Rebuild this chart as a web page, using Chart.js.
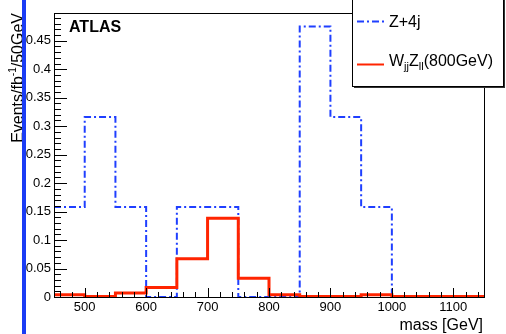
<!DOCTYPE html>
<html>
<head>
<meta charset="utf-8">
<script src="https://cdn.jsdelivr.net/npm/chart.js@4/dist/chart.umd.min.js"></script>
<style>
  html, body { margin: 0; padding: 0; background: #fff; }
</style>
</head>
<body>
<canvas id="massChart" width="506" height="334"></canvas>
<script>
// 50 GeV bins, lower edges 450 .. 1100, last edge 1150
const binEdges = [450, 500, 550, 600, 650, 700, 750, 800, 850, 900, 950, 1000, 1050, 1100, 1150];
const zJets = [0.158, 0.316, 0.158, 0, 0.158, 0.158, 0, 0, 0.475, 0.316, 0.158, 0, 0, 0];
const wzSignal = [0.004, 0.001, 0.007, 0.0165, 0.067, 0.1385, 0.033, 0.004, 0.001, 0.001, 0.004, 0.001, 0.001, 0.001];
const xTicks = [500, 600, 700, 800, 900, 1000, 1100];
const yTicks = [0, 0.05, 0.1, 0.15, 0.2, 0.25, 0.3, 0.35, 0.4, 0.45];
const yTickLabels = ['0', '0.05', '0.1', '0.15', '0.2', '0.25', '0.3', '0.35', '0.4', '0.45'];

const BLUE = '#1f3fff';
const RED = '#ff2400';
const FONT = '"Liberation Sans", Arial, Helvetica, sans-serif';

function histPoints(vals) {
    return binEdges.map((x, i) => ({ x: x, y: vals[Math.min(i, vals.length - 1)] }));
}

const rootStyle = {
    id: 'rootStyle',
    afterDatasetsDraw(chart) {
        const ctx = chart.ctx;
        const a = chart.chartArea;
        const xs = chart.scales.x, ys = chart.scales.y;
        ctx.save();

        // frame
        ctx.strokeStyle = '#000';
        ctx.lineWidth = 1;
        ctx.strokeRect(Math.round(a.left) + 0.5, Math.round(a.top) + 0.5,
            Math.round(a.right - a.left), Math.round(a.bottom - a.top));

        // y ticks (inside)
        ctx.beginPath();
        for (let v = 0; v <= ys.max + 1e-9; v += 0.01) {
            const py = Math.round(ys.getPixelForValue(v)) + 0.5;
            const major = Math.abs(v / 0.05 - Math.round(v / 0.05)) < 1e-6;
            ctx.moveTo(a.left, py);
            ctx.lineTo(a.left + (major ? 13 : 7), py);
        }
        // x ticks (inside)
        for (let v = 460; v <= xs.max; v += 20) {
            const px = Math.round(xs.getPixelForValue(v)) + 0.5;
            const major = v % 100 === 0;
            ctx.moveTo(px, a.bottom);
            ctx.lineTo(px, a.bottom - (major ? 9 : 5));
        }
        ctx.stroke();

        // ATLAS label
        ctx.fillStyle = '#000';
        ctx.font = 'bold 16px ' + FONT;
        ctx.textBaseline = 'alphabetic';
        ctx.textAlign = 'left';
        ctx.fillText('ATLAS', 69, 32);

        // x title
        ctx.font = '16px ' + FONT;
        ctx.textAlign = 'right';
        ctx.fillText('mass [GeV]', 483, 330);

        // y title (rotated, aligned to top)
        ctx.save();
        ctx.translate(23, 13);
        ctx.rotate(-Math.PI / 2);
        ctx.textAlign = 'left';
        const parts = [['Events/fb', 16, 0], ['-1', 10, -7], ['/50GeV', 16, 0]];
        let total = 0;
        parts.forEach(p => { ctx.font = p[1] + 'px ' + FONT; total += ctx.measureText(p[0]).width; });
        let cx = -total;
        parts.forEach(p => {
            ctx.font = p[1] + 'px ' + FONT;
            ctx.fillText(p[0], cx, p[2]);
            cx += ctx.measureText(p[0]).width;
        });
        ctx.restore();

        // legend box with shadow
        ctx.fillStyle = '#333';
        ctx.fillRect(354, 0, 151, 88);
        ctx.fillStyle = '#fff';
        ctx.fillRect(352, -5, 151, 91);
        ctx.strokeStyle = '#000';
        ctx.strokeRect(352.5, -5.5, 151, 92);

        ctx.lineWidth = 2;
        ctx.strokeStyle = BLUE;
        ctx.setLineDash([7, 3, 2, 3]);
        ctx.beginPath(); ctx.moveTo(357, 21.5); ctx.lineTo(384, 21.5); ctx.stroke();
        ctx.setLineDash([]);
        ctx.strokeStyle = RED;
        ctx.beginPath(); ctx.moveTo(357, 64.5); ctx.lineTo(384, 64.5); ctx.stroke();

        ctx.fillStyle = '#000';
        ctx.textAlign = 'left';
        ctx.font = '16px ' + FONT;
        ctx.fillText('Z+4j', 389, 27);
        const lp = [['W', 16, 0], ['jj', 11, 4], ['Z', 16, 0], ['ll', 11, 4], ['(800GeV)', 16, 0]];
        let lx = 389;
        lp.forEach(p => {
            ctx.font = p[1] + 'px ' + FONT;
            ctx.fillText(p[0], lx, 66 + p[2]);
            lx += ctx.measureText(p[0]).width;
        });

        // left blue bar
        ctx.fillStyle = '#1a3cf5';
        ctx.fillRect(22, 0, 4, 334);

        ctx.restore();
    }
};

new Chart(document.getElementById('massChart').getContext('2d'), {
    type: 'line',
    data: {
        datasets: [
            {
                label: 'WjjZll(800GeV)',
                data: histPoints(wzSignal),
                borderColor: RED,
                borderWidth: 3,
                stepped: 'before',
                pointRadius: 0,
                fill: false,
                order: 0
            },
            {
                label: 'Z+4j',
                data: histPoints(zJets),
                borderColor: BLUE,
                borderWidth: 2,
                borderDash: [7, 3, 2, 3],
                stepped: 'before',
                pointRadius: 0,
                fill: false,
                order: 1
            }
        ]
    },
    options: {
        responsive: false,
        animation: false,
        devicePixelRatio: 1,
        layout: { padding: { top: 13, right: 22, left: 0, bottom: 0 } },
        plugins: {
            legend: { display: false },
            tooltip: { enabled: false }
        },
        scales: {
            x: {
                type: 'linear',
                min: 450,
                max: 1150,
                grid: { display: false, drawTicks: false },
                border: { display: false },
                afterBuildTicks: s => { s.ticks = xTicks.map(v => ({ value: v })); },
                afterFit: s => { s.height = 37; },
                ticks: {
                    padding: 3,
                    color: '#000',
                    font: { family: FONT, size: 13 },
                    maxRotation: 0,
                    callback: v => String(v)
                }
            },
            y: {
                type: 'linear',
                min: 0,
                max: 0.4988,
                grid: { display: false, drawTicks: false },
                border: { display: false },
                afterBuildTicks: s => { s.ticks = yTicks.map(v => ({ value: v })); },
                afterFit: s => { s.width = 54; },
                ticks: {
                    padding: 3,
                    color: '#000',
                    font: { family: FONT, size: 13 },
                    callback: (v) => yTickLabels[yTicks.findIndex(t => Math.abs(t - v) < 1e-9)]
                }
            }
        }
    },
    plugins: [rootStyle]
});
</script>
</body>
</html>
